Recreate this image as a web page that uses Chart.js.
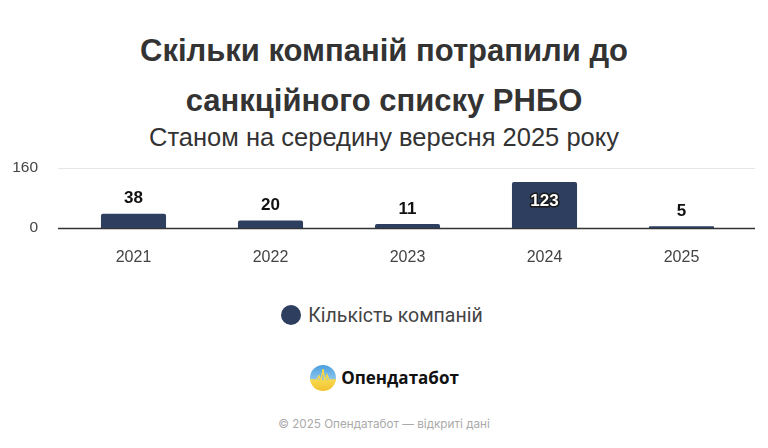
<!DOCTYPE html>
<html lang="uk">
<head>
<meta charset="utf-8">
<script src="https://cdn.jsdelivr.net/npm/chart.js@4"></script>
<style>
  html, body { margin: 0; padding: 0; background: #fff; }
  body { width: 768px; height: 448px; position: relative; overflow: hidden; font-family: "Liberation Sans", Arial, sans-serif; }
  .title { position: absolute; left: 0; width: 768px; text-align: center; font-weight: bold; font-size: 31px; color: #333; line-height: 1; }
  .subtitle { position: absolute; left: 0; top: 125px; width: 768px; text-align: center; font-size: 25.5px; color: #333; line-height: 1; }
  #chartBox { position: absolute; left: 0; top: 150px; width: 768px; height: 130px; }
  .legend { position: absolute; top: 304px; left: 0; width: 768px; text-align: center; font-family: Roboto, "Noto Sans", sans-serif; font-size: 19.5px; color: #444; }
  .legend .dot { display: inline-block; width: 20px; height: 20px; border-radius: 50%; background: #2d3e5f; vertical-align: -3px; margin-right: 7px; margin-left: -4px; }
  .logo { position: absolute; top: 364px; left: 0; width: 768px; text-align: center; font-family: "Open Sans", "Noto Sans", sans-serif; font-weight: bold; font-size: 17px; color: #111; }
  .logo svg { vertical-align: -8px; margin-right: 4px; }
  .footer { position: absolute; top: 417px; left: 0; width: 768px; text-align: center; font-family: Inter, Roboto, sans-serif; font-size: 11.7px; color: #aaa; }
</style>
</head>
<body>
<div class="title" style="top:35px">Скільки компаній потрапили до</div>
<div class="title" style="top:85px">санкційного списку РНБО</div>
<div class="subtitle">Станом на середину вересня 2025 року</div>
<div id="chartBox"><canvas id="chart"></canvas></div>
<div class="legend"><span class="dot"></span>Кількість компаній</div>
<div class="logo">
  <svg width="28" height="28" viewBox="0 0 28 28">
    <defs>
      <linearGradient id="lg" x1="0" y1="0" x2="0" y2="1">
        <stop offset="0" stop-color="#4a9fe0"/>
        <stop offset="0.55" stop-color="#8cc4ea"/>
        <stop offset="0.6" stop-color="#f7d64a"/>
        <stop offset="1" stop-color="#f2c230"/>
      </linearGradient>
    </defs>
    <circle cx="14" cy="14" r="13" fill="url(#lg)"/>
    <polyline points="1,16 8,16 10,12 12,17 14,5 16,18 18,11 20,16 27,16" fill="none" stroke="#f7d64a" stroke-width="1.5"/>
  </svg>Опендатабот
</div>
<div class="footer">© 2025 Опендатабот — відкриті дані</div>

<script>
// Chart data
const years = ['2021', '2022', '2023', '2024', '2025'];
const companies = [38, 20, 11, 123, 5];
const yTicks = [0, 160];

const BAR_COLOR = '#2d3e5f';
const FONT = '"Liberation Sans", Arial, sans-serif';

// Gridline and zero line, a little wider than the plot area
const axisLines = {
    id: 'axisLines',
    beforeDatasetsDraw(chart) {
        const ctx = chart.ctx;
        const y = chart.scales.y;
        const left = chart.chartArea.left - 7;
        const right = chart.chartArea.right + 5;
        ctx.save();
        yTicks.forEach(v => {
            const py = Math.round(y.getPixelForValue(v)) + 0.5;
            ctx.beginPath();
            ctx.strokeStyle = v === 0 ? '#333' : '#e6e6e6';
            ctx.lineWidth = v === 0 ? 1.5 : 1;
            ctx.moveTo(left, py);
            ctx.lineTo(right, py);
            ctx.stroke();
        });
        ctx.restore();
    }
};

// Value labels: above the bar, or inside it when there is no room
const valueLabels = {
    id: 'valueLabels',
    afterDatasetsDraw(chart) {
        const ctx = chart.ctx;
        const meta = chart.getDatasetMeta(0);
        ctx.save();
        ctx.font = 'bold 17px ' + FONT;
        ctx.textAlign = 'center';
        ctx.textBaseline = 'middle';
        meta.data.forEach((bar, i) => {
            const text = String(companies[i]);
            let y = bar.y - 15;
            if (y - 8 < chart.chartArea.top) {
                y = bar.y + 19;
                ctx.lineWidth = 3;
                ctx.strokeStyle = '#1a1a1a';
                ctx.lineJoin = 'round';
                ctx.strokeText(text, bar.x, y);
                ctx.fillStyle = '#fff';
            } else {
                ctx.fillStyle = '#111';
            }
            ctx.fillText(text, bar.x, y);
        });
        ctx.restore();
    }
};

new Chart(document.getElementById('chart'), {
    type: 'bar',
    data: {
        labels: years,
        datasets: [{
            label: 'Кількість компаній',
            data: companies,
            backgroundColor: BAR_COLOR,
            borderWidth: 0,
            borderRadius: 2,
            borderSkipped: 'bottom',
            categoryPercentage: 1,
            barPercentage: 0.475
        }]
    },
    options: {
        responsive: true,
        maintainAspectRatio: false,
        animation: false,
        layout: { padding: { top: 18, right: 18, left: 0, bottom: 0 } },
        plugins: {
            legend: { display: false },
            tooltip: { enabled: false }
        },
        scales: {
            x: {
                grid: { display: false },
                border: { display: false },
                ticks: { color: '#444', padding: 12, font: { size: 16, family: FONT } },
                afterFit: axis => { axis.height = 52; }
            },
            y: {
                min: 0,
                max: 160,
                afterBuildTicks: axis => { axis.ticks = yTicks.map(v => ({ value: v })); },
                grid: { display: false, drawTicks: false },
                border: { display: false },
                ticks: { color: '#444', padding: 27, font: { size: 15.5, family: FONT } },
                afterFit: axis => {
                    axis.width = 65;
                    axis.paddingTop = 0;
                    axis.paddingBottom = 0;
                }
            }
        }
    },
    plugins: [axisLines, valueLabels]
});
</script>
</body>
</html>
